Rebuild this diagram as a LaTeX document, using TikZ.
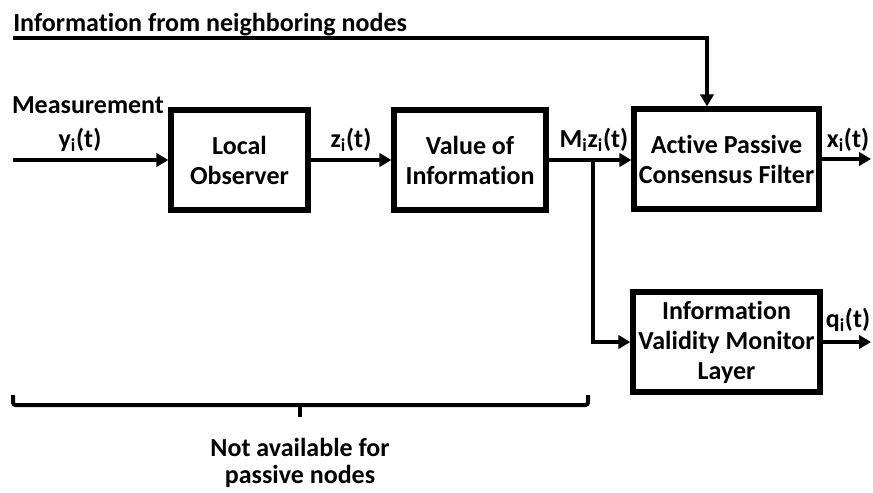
\documentclass[tikz,border=0pt]{standalone}
\usepackage{fontspec}
\setmainfont{Carlito}[Ligatures=NoCommon]
\usetikzlibrary{arrows.meta}

\begin{document}
\begin{tikzpicture}[x=0.75pt, y=-0.75pt,
    font={\fontsize{19.5}{22.5}\selectfont\bfseries},
    blk/.style={draw, line width=4pt, align=center, inner sep=0pt, minimum height=75pt},
    arr/.style={line width=3pt, -{Triangle[length=9pt,width=10pt]}},
    lbl/.style={inner sep=0pt, anchor=base}]
    \def\lw{3pt}
    \useasboundingbox (0,0) rectangle (873,492);

    \node[blk, minimum width=102.75pt] (obs) at (239.5,160) {Local\\Observer};
    \node[blk, minimum width=114pt] (voi) at (470,160) {Value of\\Information};
    \node[blk, minimum width=138.75pt] (apcf) at (726.5,159) {Active Passive\\Consensus Filter};
    \node[blk, minimum width=140.25pt] (ivm) at (726.5,342) {Information\\Validity Monitor\\Layer};

    \coordinate (nbr) at (13,38);
    \coordinate (nbrin) at (707,0);
    \coordinate (in) at (13,160);
    \coordinate (br) at (593,160);
    \coordinate (outx) at (871,0);

    \node[lbl, anchor=base west] (nbrlbl) at (13,32) {Information from neighboring nodes};
    \node[lbl] (meas) at (88,113) {Measurement};
    \node[lbl] (ylbl) at (80,147) {y\textsubscript{i}(t)};
    \node[lbl] (zlbl) at (351,147) {z\textsubscript{i}(t)};
    \node[lbl] (mlbl) at (594,147) {M\textsubscript{i}z\textsubscript{i}(t)};
    \node[lbl] (xlbl) at (848,147) {x\textsubscript{i}(t)};
    \node[lbl] (qlbl) at (848,327) {q\textsubscript{i}(t)};
    \node[align=center, inner sep=0pt, font={\fontsize{19.5}{20.25}\selectfont\bfseries}] (na) at (300,463) {Not available for\\passive nodes};

    \draw[arr] (nbr) -| (apcf.north -| nbrin);
    \draw[arr] (in) -- (obs);
    \draw[arr] (obs) -- (voi);
    \draw[arr] (voi.east) -- (apcf.west |- voi.east);
    \draw[arr] (br) |- (ivm.west);
    \draw[arr] (apcf.east) -- (apcf.east -| outx);
    \draw[arr] (ivm.east) -- (ivm.east -| outx);

    \draw[line width=\lw, rounded corners=2pt] (13,395) -- (13,405) -- (588,405) -- (588,395);
    \draw[line width=\lw] (300,405) -- (300,417);
\end{tikzpicture}
\end{document}
